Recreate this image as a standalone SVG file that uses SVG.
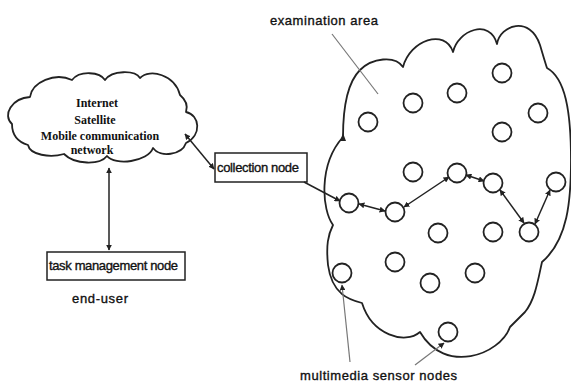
<svg xmlns="http://www.w3.org/2000/svg" width="571" height="385" viewBox="0 0 571 385">
<style>
.outline{fill:none;stroke:#222;stroke-width:1.8;stroke-linejoin:round}
.sensor{fill:#fff;stroke:#222;stroke-width:1.8}
.box{fill:#fff;stroke:#222;stroke-width:1.5}
.conn{fill:none;stroke:#222;stroke-width:1.5}
.ptr{fill:none;stroke:#777;stroke-width:1.2}
.lbl{font-family:"Liberation Sans",Arial,sans-serif;font-size:13px;fill:#111;stroke:#111;stroke-width:0.35}
.serif{font-family:"Liberation Serif","Times New Roman",serif;font-size:12px;font-weight:bold;fill:#111;text-anchor:middle}
</style>
<defs>
<marker id="ah" viewBox="0 0 10 10" refX="9" refY="5" markerWidth="6" markerHeight="6" markerUnits="userSpaceOnUse" orient="auto-start-reverse">
<path d="M0,0 L10,5 L0,10 z" fill="#222"/>
</marker>
</defs>

<g id="internet-cloud">
<path class="outline" d="M12,124 C2,115 12,98 30,97 C32,82 55,72 72,80 C80,70 100,72 105,80 C112,70 135,70 140,78 C150,68 175,75 180,95 C186,100 188,106 186,112 C200,115 202,135 186,143 C182,155 160,158 153,148 C148,162 115,166 107,156 C100,165 75,165 64,154 C50,158 30,155 28,145 C18,142 12,135 12,124 Z"/>
<text class="serif" x="97" y="107">Internet</text>
<text class="serif" x="95" y="124">Satellite</text>
<text class="serif" x="100" y="140">Mobile communication</text>
<text class="serif" x="92" y="154">network</text>
</g>

<g id="examination-area">
<path class="outline" d="M343,137 C343,105 348,82 360,70 C372,58 395,55 403,67 C410,40 445,28 453,52 C458,30 490,18 497,44 C500,25 530,15 540,45 C543,55 545,62 547,68 C565,78 571,110 571,160 C571,200 568,240 542,262 C538,280 535,300 525,312 L510,327 C500,355 445,375 420,332 C405,345 372,335 362,303 C350,300 332,295 328,265 C326,245 328,235 333,225 C322,210 318,165 343,137"/>
<path d="M340,141 L343,133 L346,141 z" fill="#222"/>
<text class="lbl" x="270" y="25" font-size="14" textLength="108">examination area</text>
<line class="ptr" x1="332" y1="34" x2="378" y2="94"/>
</g>

<g id="collection-node">
<rect class="box" x="215" y="153" width="92" height="29"/>
<text class="lbl" x="217" y="172" textLength="82">collection node</text>
</g>

<g id="task-management-node">
<rect class="box" x="47" y="252" width="138" height="28"/>
<text class="lbl" x="49" y="270" textLength="129">task management node</text>
</g>

<text id="end-user" class="lbl" x="72" y="303" font-size="14" textLength="56">end-user</text>

<g id="sensor-nodes">
<circle class="sensor" cx="368" cy="122" r="9.5"/>
<circle class="sensor" cx="413" cy="103" r="9.5"/>
<circle class="sensor" cx="457" cy="93" r="9.5"/>
<circle class="sensor" cx="502" cy="73" r="9.5"/>
<circle class="sensor" cx="538" cy="113" r="9.5"/>
<circle class="sensor" cx="502" cy="132" r="9.5"/>
<circle class="sensor" cx="413" cy="172" r="9.5"/>
<circle class="sensor" cx="457" cy="173" r="9.5"/>
<circle class="sensor" cx="493" cy="183" r="9.5"/>
<circle class="sensor" cx="556" cy="182" r="9.5"/>
<circle class="sensor" cx="349" cy="203" r="9.5"/>
<circle class="sensor" cx="395" cy="212" r="9.5"/>
<circle class="sensor" cx="438" cy="233" r="9.5"/>
<circle class="sensor" cx="493" cy="232" r="9.5"/>
<circle class="sensor" cx="529" cy="232" r="9.5"/>
<circle class="sensor" cx="395" cy="262" r="9.5"/>
<circle class="sensor" cx="342" cy="273" r="9.5"/>
<circle class="sensor" cx="430" cy="283" r="9.5"/>
<circle class="sensor" cx="475" cy="273" r="9.5"/>
<circle class="sensor" cx="448" cy="332" r="9.5"/>
<text class="lbl" x="300" y="380" font-size="14" textLength="157">multimedia sensor nodes</text>
<line class="ptr" x1="350" y1="362" x2="342" y2="285" marker-end="url(#ah)"/>
<line class="ptr" x1="415" y1="365" x2="444" y2="343" marker-end="url(#ah)"/>
</g>

<g id="connectors">
<line class="conn" x1="109" y1="250" x2="109" y2="168" marker-start="url(#ah)" marker-end="url(#ah)"/>
<line class="conn" x1="214" y1="169" x2="185" y2="134" marker-start="url(#ah)" marker-end="url(#ah)"/>
<line class="conn" x1="304" y1="182" x2="340" y2="201" marker-end="url(#ah)"/>
<line class="conn" x1="359" y1="204" x2="385" y2="211" marker-start="url(#ah)" marker-end="url(#ah)"/>
<line class="conn" x1="404" y1="207" x2="449" y2="177" marker-start="url(#ah)" marker-end="url(#ah)"/>
<line class="conn" x1="466" y1="175" x2="484" y2="181" marker-start="url(#ah)" marker-end="url(#ah)"/>
<line class="conn" x1="500" y1="190" x2="524" y2="223" marker-start="url(#ah)" marker-end="url(#ah)"/>
<line class="conn" x1="535" y1="224" x2="550" y2="190" marker-start="url(#ah)" marker-end="url(#ah)"/>
</g>
</svg>
